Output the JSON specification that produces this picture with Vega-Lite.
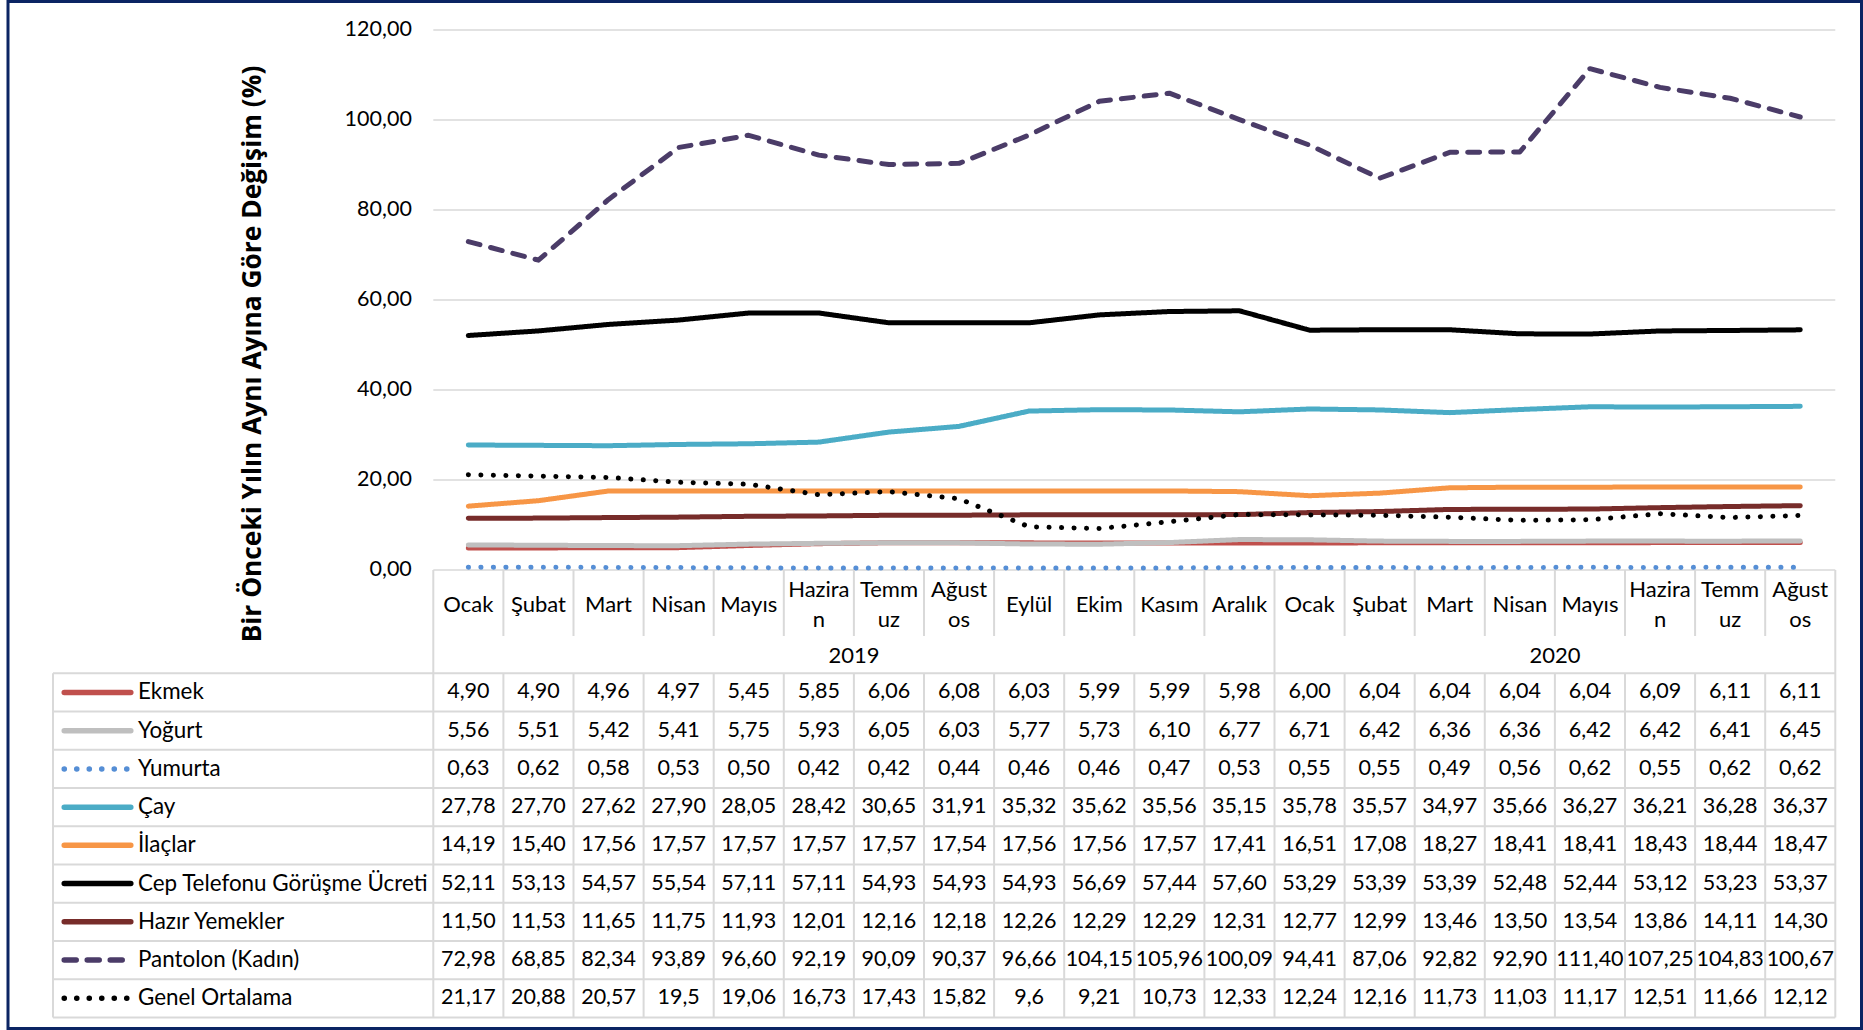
{
  "$schema": "https://vega.github.io/schema/vega-lite/v6.json",
  "usermeta": {"embedOptions": {"actions": false}},
  "width": 1853.5,
  "height": 1027,
  "padding": {"left": 8, "top": 1.5, "right": 1.5, "bottom": 1.5},
  "background": "white",
  "config": {
    "view": {"stroke": "#0b2463", "strokeWidth": 3},
    "font": "Lato",
    "locale": {"number": {"decimal": ",", "thousands": ".", "grouping": [3], "currency": ["", ""]}}
  },
  "datasets": {
    "ser": [
      {"s": "Ekmek", "k": 0}, {"s": "Yoğurt", "k": 1}, {"s": "Yumurta", "k": 2}, {"s": "Çay", "k": 3}, {"s": "İlaçlar", "k": 4},
      {"s": "Cep Telefonu Görüşme Ücreti", "k": 5}, {"s": "Hazır Yemekler", "k": 6}, {"s": "Pantolon (Kadın)", "k": 7}, {"s": "Genel Ortalama", "k": 8}
    ],
    "months": [
      {"m": 0, "ay": "Ocak", "yil": "2019"}, {"m": 1, "ay": "Şubat", "yil": "2019"}, {"m": 2, "ay": "Mart", "yil": "2019"}, {"m": 3, "ay": "Nisan", "yil": "2019"},
      {"m": 4, "ay": "Mayıs", "yil": "2019"}, {"m": 5, "ay": "Hazira\nn", "yil": "2019"}, {"m": 6, "ay": "Temm\nuz", "yil": "2019"}, {"m": 7, "ay": "Ağust\nos", "yil": "2019"},
      {"m": 8, "ay": "Eylül", "yil": "2019"}, {"m": 9, "ay": "Ekim", "yil": "2019"}, {"m": 10, "ay": "Kasım", "yil": "2019"}, {"m": 11, "ay": "Aralık", "yil": "2019"},
      {"m": 12, "ay": "Ocak", "yil": "2020"}, {"m": 13, "ay": "Şubat", "yil": "2020"}, {"m": 14, "ay": "Mart", "yil": "2020"}, {"m": 15, "ay": "Nisan", "yil": "2020"},
      {"m": 16, "ay": "Mayıs", "yil": "2020"}, {"m": 17, "ay": "Hazira\nn", "yil": "2020"}, {"m": 18, "ay": "Temm\nuz", "yil": "2020"}, {"m": 19, "ay": "Ağust\nos", "yil": "2020"}
    ],
    "grid": [{"v": 0}, {"v": 20}, {"v": 40}, {"v": 60}, {"v": 80}, {"v": 100}, {"v": 120}],
    "pts": [
      {"s": "Ekmek", "m": 0, "v": 4.90}, {"s": "Ekmek", "m": 1, "v": 4.90}, {"s": "Ekmek", "m": 2, "v": 4.96}, {"s": "Ekmek", "m": 3, "v": 4.97}, {"s": "Ekmek", "m": 4, "v": 5.45},
      {"s": "Ekmek", "m": 5, "v": 5.85}, {"s": "Ekmek", "m": 6, "v": 6.06}, {"s": "Ekmek", "m": 7, "v": 6.08}, {"s": "Ekmek", "m": 8, "v": 6.03}, {"s": "Ekmek", "m": 9, "v": 5.99},
      {"s": "Ekmek", "m": 10, "v": 5.99}, {"s": "Ekmek", "m": 11, "v": 5.98}, {"s": "Ekmek", "m": 12, "v": 6.00}, {"s": "Ekmek", "m": 13, "v": 6.04}, {"s": "Ekmek", "m": 14, "v": 6.04},
      {"s": "Ekmek", "m": 15, "v": 6.04}, {"s": "Ekmek", "m": 16, "v": 6.04}, {"s": "Ekmek", "m": 17, "v": 6.09}, {"s": "Ekmek", "m": 18, "v": 6.11}, {"s": "Ekmek", "m": 19, "v": 6.11},

      {"s": "Yoğurt", "m": 0, "v": 5.56}, {"s": "Yoğurt", "m": 1, "v": 5.51}, {"s": "Yoğurt", "m": 2, "v": 5.42}, {"s": "Yoğurt", "m": 3, "v": 5.41}, {"s": "Yoğurt", "m": 4, "v": 5.75},
      {"s": "Yoğurt", "m": 5, "v": 5.93}, {"s": "Yoğurt", "m": 6, "v": 6.05}, {"s": "Yoğurt", "m": 7, "v": 6.03}, {"s": "Yoğurt", "m": 8, "v": 5.77}, {"s": "Yoğurt", "m": 9, "v": 5.73},
      {"s": "Yoğurt", "m": 10, "v": 6.10}, {"s": "Yoğurt", "m": 11, "v": 6.77}, {"s": "Yoğurt", "m": 12, "v": 6.71}, {"s": "Yoğurt", "m": 13, "v": 6.42}, {"s": "Yoğurt", "m": 14, "v": 6.36},
      {"s": "Yoğurt", "m": 15, "v": 6.36}, {"s": "Yoğurt", "m": 16, "v": 6.42}, {"s": "Yoğurt", "m": 17, "v": 6.42}, {"s": "Yoğurt", "m": 18, "v": 6.41}, {"s": "Yoğurt", "m": 19, "v": 6.45},

      {"s": "Yumurta", "m": 0, "v": 0.63}, {"s": "Yumurta", "m": 1, "v": 0.62}, {"s": "Yumurta", "m": 2, "v": 0.58}, {"s": "Yumurta", "m": 3, "v": 0.53}, {"s": "Yumurta", "m": 4, "v": 0.50},
      {"s": "Yumurta", "m": 5, "v": 0.42}, {"s": "Yumurta", "m": 6, "v": 0.42}, {"s": "Yumurta", "m": 7, "v": 0.44}, {"s": "Yumurta", "m": 8, "v": 0.46}, {"s": "Yumurta", "m": 9, "v": 0.46},
      {"s": "Yumurta", "m": 10, "v": 0.47}, {"s": "Yumurta", "m": 11, "v": 0.53}, {"s": "Yumurta", "m": 12, "v": 0.55}, {"s": "Yumurta", "m": 13, "v": 0.55}, {"s": "Yumurta", "m": 14, "v": 0.49},
      {"s": "Yumurta", "m": 15, "v": 0.56}, {"s": "Yumurta", "m": 16, "v": 0.62}, {"s": "Yumurta", "m": 17, "v": 0.55}, {"s": "Yumurta", "m": 18, "v": 0.62}, {"s": "Yumurta", "m": 19, "v": 0.62},

      {"s": "Çay", "m": 0, "v": 27.78}, {"s": "Çay", "m": 1, "v": 27.70}, {"s": "Çay", "m": 2, "v": 27.62}, {"s": "Çay", "m": 3, "v": 27.90}, {"s": "Çay", "m": 4, "v": 28.05},
      {"s": "Çay", "m": 5, "v": 28.42}, {"s": "Çay", "m": 6, "v": 30.65}, {"s": "Çay", "m": 7, "v": 31.91}, {"s": "Çay", "m": 8, "v": 35.32}, {"s": "Çay", "m": 9, "v": 35.62},
      {"s": "Çay", "m": 10, "v": 35.56}, {"s": "Çay", "m": 11, "v": 35.15}, {"s": "Çay", "m": 12, "v": 35.78}, {"s": "Çay", "m": 13, "v": 35.57}, {"s": "Çay", "m": 14, "v": 34.97},
      {"s": "Çay", "m": 15, "v": 35.66}, {"s": "Çay", "m": 16, "v": 36.27}, {"s": "Çay", "m": 17, "v": 36.21}, {"s": "Çay", "m": 18, "v": 36.28}, {"s": "Çay", "m": 19, "v": 36.37},

      {"s": "İlaçlar", "m": 0, "v": 14.19}, {"s": "İlaçlar", "m": 1, "v": 15.40}, {"s": "İlaçlar", "m": 2, "v": 17.56}, {"s": "İlaçlar", "m": 3, "v": 17.57}, {"s": "İlaçlar", "m": 4, "v": 17.57},
      {"s": "İlaçlar", "m": 5, "v": 17.57}, {"s": "İlaçlar", "m": 6, "v": 17.57}, {"s": "İlaçlar", "m": 7, "v": 17.54}, {"s": "İlaçlar", "m": 8, "v": 17.56}, {"s": "İlaçlar", "m": 9, "v": 17.56},
      {"s": "İlaçlar", "m": 10, "v": 17.57}, {"s": "İlaçlar", "m": 11, "v": 17.41}, {"s": "İlaçlar", "m": 12, "v": 16.51}, {"s": "İlaçlar", "m": 13, "v": 17.08}, {"s": "İlaçlar", "m": 14, "v": 18.27},
      {"s": "İlaçlar", "m": 15, "v": 18.41}, {"s": "İlaçlar", "m": 16, "v": 18.41}, {"s": "İlaçlar", "m": 17, "v": 18.43}, {"s": "İlaçlar", "m": 18, "v": 18.44}, {"s": "İlaçlar", "m": 19, "v": 18.47},

      {"s": "Cep Telefonu Görüşme Ücreti", "m": 0, "v": 52.11}, {"s": "Cep Telefonu Görüşme Ücreti", "m": 1, "v": 53.13}, {"s": "Cep Telefonu Görüşme Ücreti", "m": 2, "v": 54.57},
      {"s": "Cep Telefonu Görüşme Ücreti", "m": 3, "v": 55.54}, {"s": "Cep Telefonu Görüşme Ücreti", "m": 4, "v": 57.11}, {"s": "Cep Telefonu Görüşme Ücreti", "m": 5, "v": 57.11},
      {"s": "Cep Telefonu Görüşme Ücreti", "m": 6, "v": 54.93}, {"s": "Cep Telefonu Görüşme Ücreti", "m": 7, "v": 54.93}, {"s": "Cep Telefonu Görüşme Ücreti", "m": 8, "v": 54.93},
      {"s": "Cep Telefonu Görüşme Ücreti", "m": 9, "v": 56.69}, {"s": "Cep Telefonu Görüşme Ücreti", "m": 10, "v": 57.44}, {"s": "Cep Telefonu Görüşme Ücreti", "m": 11, "v": 57.60},
      {"s": "Cep Telefonu Görüşme Ücreti", "m": 12, "v": 53.29}, {"s": "Cep Telefonu Görüşme Ücreti", "m": 13, "v": 53.39}, {"s": "Cep Telefonu Görüşme Ücreti", "m": 14, "v": 53.39},
      {"s": "Cep Telefonu Görüşme Ücreti", "m": 15, "v": 52.48}, {"s": "Cep Telefonu Görüşme Ücreti", "m": 16, "v": 52.44}, {"s": "Cep Telefonu Görüşme Ücreti", "m": 17, "v": 53.12},
      {"s": "Cep Telefonu Görüşme Ücreti", "m": 18, "v": 53.23}, {"s": "Cep Telefonu Görüşme Ücreti", "m": 19, "v": 53.37},

      {"s": "Hazır Yemekler", "m": 0, "v": 11.50}, {"s": "Hazır Yemekler", "m": 1, "v": 11.53}, {"s": "Hazır Yemekler", "m": 2, "v": 11.65}, {"s": "Hazır Yemekler", "m": 3, "v": 11.75},
      {"s": "Hazır Yemekler", "m": 4, "v": 11.93}, {"s": "Hazır Yemekler", "m": 5, "v": 12.01}, {"s": "Hazır Yemekler", "m": 6, "v": 12.16}, {"s": "Hazır Yemekler", "m": 7, "v": 12.18},
      {"s": "Hazır Yemekler", "m": 8, "v": 12.26}, {"s": "Hazır Yemekler", "m": 9, "v": 12.29}, {"s": "Hazır Yemekler", "m": 10, "v": 12.29}, {"s": "Hazır Yemekler", "m": 11, "v": 12.31},
      {"s": "Hazır Yemekler", "m": 12, "v": 12.77}, {"s": "Hazır Yemekler", "m": 13, "v": 12.99}, {"s": "Hazır Yemekler", "m": 14, "v": 13.46}, {"s": "Hazır Yemekler", "m": 15, "v": 13.50},
      {"s": "Hazır Yemekler", "m": 16, "v": 13.54}, {"s": "Hazır Yemekler", "m": 17, "v": 13.86}, {"s": "Hazır Yemekler", "m": 18, "v": 14.11}, {"s": "Hazır Yemekler", "m": 19, "v": 14.30},

      {"s": "Pantolon (Kadın)", "m": 0, "v": 72.98}, {"s": "Pantolon (Kadın)", "m": 1, "v": 68.85}, {"s": "Pantolon (Kadın)", "m": 2, "v": 82.34}, {"s": "Pantolon (Kadın)", "m": 3, "v": 93.89},
      {"s": "Pantolon (Kadın)", "m": 4, "v": 96.60}, {"s": "Pantolon (Kadın)", "m": 5, "v": 92.19}, {"s": "Pantolon (Kadın)", "m": 6, "v": 90.09}, {"s": "Pantolon (Kadın)", "m": 7, "v": 90.37},
      {"s": "Pantolon (Kadın)", "m": 8, "v": 96.66}, {"s": "Pantolon (Kadın)", "m": 9, "v": 104.15}, {"s": "Pantolon (Kadın)", "m": 10, "v": 105.96}, {"s": "Pantolon (Kadın)", "m": 11, "v": 100.09},
      {"s": "Pantolon (Kadın)", "m": 12, "v": 94.41}, {"s": "Pantolon (Kadın)", "m": 13, "v": 87.06}, {"s": "Pantolon (Kadın)", "m": 14, "v": 92.82}, {"s": "Pantolon (Kadın)", "m": 15, "v": 92.90},
      {"s": "Pantolon (Kadın)", "m": 16, "v": 111.40}, {"s": "Pantolon (Kadın)", "m": 17, "v": 107.25}, {"s": "Pantolon (Kadın)", "m": 18, "v": 104.83}, {"s": "Pantolon (Kadın)", "m": 19, "v": 100.67},

      {"s": "Genel Ortalama", "m": 0, "v": 21.17}, {"s": "Genel Ortalama", "m": 1, "v": 20.88}, {"s": "Genel Ortalama", "m": 2, "v": 20.57}, {"s": "Genel Ortalama", "m": 3, "v": 19.5},
      {"s": "Genel Ortalama", "m": 4, "v": 19.06}, {"s": "Genel Ortalama", "m": 5, "v": 16.73}, {"s": "Genel Ortalama", "m": 6, "v": 17.43}, {"s": "Genel Ortalama", "m": 7, "v": 15.82},
      {"s": "Genel Ortalama", "m": 8, "v": 9.6}, {"s": "Genel Ortalama", "m": 9, "v": 9.21}, {"s": "Genel Ortalama", "m": 10, "v": 10.73}, {"s": "Genel Ortalama", "m": 11, "v": 12.33},
      {"s": "Genel Ortalama", "m": 12, "v": 12.24}, {"s": "Genel Ortalama", "m": 13, "v": 12.16}, {"s": "Genel Ortalama", "m": 14, "v": 11.73}, {"s": "Genel Ortalama", "m": 15, "v": 11.03},
      {"s": "Genel Ortalama", "m": 16, "v": 11.17}, {"s": "Genel Ortalama", "m": 17, "v": 12.51}, {"s": "Genel Ortalama", "m": 18, "v": 11.66}, {"s": "Genel Ortalama", "m": 19, "v": 12.12}
    ]
  },
  "layer": [
    {
      "encoding": {
        "y": {
          "field": "v", "type": "quantitative",
          "scale": {"domain": [-101.889, 126.333], "nice": false, "zero": false},
          "axis": {
            "offset": -425.35, "domain": false, "ticks": false, "grid": false,
            "values": [0, 20, 40, 60, 80, 100, 120], "format": ".2f",
            "labelFont": "Lato", "labelFontSize": 21.5, "labelColor": "#000000", "labelPadding": 22,
            "title": "Bir Önceki Yılın Aynı Ayına Göre Değişim (%)",
            "titleFont": "Open Sans", "titleFontWeight": "bold", "titleFontSize": 26.3, "titleColor": "#000000",
            "titleAngle": 270, "titleBaseline": "middle", "titleAlign": "center",
            "titleX": -181.35, "titleY": 352
          }
        }
      },
      "layer": [
        {
          "data": {"name": "grid"},
          "mark": {"type": "rule", "stroke": "#d9d9d9", "strokeWidth": 1.5},
          "encoding": {
            "x": {"datum": -0.5, "type": "quantitative", "scale": {"domain": [-6.567, 19.8738], "nice": false, "zero": false}, "axis": null},
            "x2": {"datum": 19.5}
          }
        },
        {
          "data": {"name": "pts"},
          "mark": {"type": "line", "strokeWidth": 5, "strokeCap": "round", "strokeJoin": "round"},
          "encoding": {
            "x": {"field": "m", "type": "quantitative", "scale": {"domain": [-6.567, 19.8738], "nice": false, "zero": false}, "axis": null},
            "order": {"field": "m"},
            "color": {
              "field": "s", "type": "nominal", "legend": null,
              "scale": {
                "domain": ["Ekmek", "Yoğurt", "Yumurta", "Çay", "İlaçlar", "Cep Telefonu Görüşme Ücreti", "Hazır Yemekler", "Pantolon (Kadın)", "Genel Ortalama"],
                "range": ["#c0504d", "#bfbfbf", "#558ed5", "#4bacc6", "#f79646", "#000000", "#772c2a", "#4b3c68", "#000000"]
              }
            },
            "strokeDash": {
              "field": "s", "type": "nominal", "legend": null,
              "scale": {
                "domain": ["Ekmek", "Yoğurt", "Yumurta", "Çay", "İlaçlar", "Cep Telefonu Görüşme Ücreti", "Hazır Yemekler", "Pantolon (Kadın)", "Genel Ortalama"],
                "range": [[1, 0], [1, 0], [0.1, 12.4], [1, 0], [1, 0], [1, 0], [1, 0], [12, 11], [0.1, 12.4]]
              }
            }
          }
        }
      ]
    },
    {
      "layer": [
        {
          "data": {"name": "ser"},
          "mark": {"type": "rule", "stroke": "#d9d9d9", "strokeWidth": 2, "yOffset": -19.12},
          "encoding": {
            "x": {"datum": -5.925, "type": "quantitative", "scale": {"domain": [-6.567, 19.8738], "nice": false, "zero": false}, "axis": null},
            "x2": {"datum": 19.5},
            "y": {"field": "k", "type": "quantitative", "scale": {"domain": [-18.068, 8.789], "nice": false, "zero": false, "reverse": true}, "axis": null}
          }
        },
        {
          "data": {"values": [{}]},
          "mark": {"type": "rule", "stroke": "#d9d9d9", "strokeWidth": 2},
          "encoding": {
            "x": {"datum": -5.925, "type": "quantitative", "scale": {"domain": [-6.567, 19.8738], "nice": false, "zero": false}, "axis": null},
            "x2": {"datum": 19.5},
            "y": {"datum": 8.5, "type": "quantitative", "scale": {"domain": [-18.068, 8.789], "nice": false, "zero": false, "reverse": true}, "axis": null}
          }
        },
        {
          "data": {"name": "months"},
          "mark": {"type": "rule", "stroke": "#d9d9d9", "strokeWidth": 2, "xOffset": -35.05},
          "encoding": {
            "x": {"field": "m", "type": "quantitative", "scale": {"domain": [-6.567, 19.8738], "nice": false, "zero": false}, "axis": null},
            "y": {"datum": -3.201, "type": "quantitative", "scale": {"domain": [-18.068, 8.789], "nice": false, "zero": false, "reverse": true}, "axis": null},
            "y2": {"datum": -1.475}
          }
        },
        {
          "data": {"name": "months"},
          "mark": {"type": "rule", "stroke": "#d9d9d9", "strokeWidth": 2, "xOffset": -35.05},
          "encoding": {
            "x": {"field": "m", "type": "quantitative", "scale": {"domain": [-6.567, 19.8738], "nice": false, "zero": false}, "axis": null},
            "y": {"datum": -0.5, "type": "quantitative", "scale": {"domain": [-18.068, 8.789], "nice": false, "zero": false, "reverse": true}, "axis": null},
            "y2": {"datum": 8.5}
          }
        },
        {
          "data": {"name": "months"},
          "mark": {"type": "rule", "stroke": "#d9d9d9", "strokeWidth": 2, "xOffset": -35.05},
          "encoding": {
            "x": {"aggregate": "min", "field": "m", "type": "quantitative", "scale": {"domain": [-6.567, 19.8738], "nice": false, "zero": false}, "axis": null},
            "detail": {"field": "yil"},
            "y": {"datum": -1.475, "type": "quantitative", "scale": {"domain": [-18.068, 8.789], "nice": false, "zero": false, "reverse": true}, "axis": null},
            "y2": {"datum": -0.5}
          }
        },
        {
          "data": {"values": [{}]},
          "mark": {"type": "rule", "stroke": "#d9d9d9", "strokeWidth": 2},
          "encoding": {
            "x": {"datum": 19.5, "type": "quantitative", "scale": {"domain": [-6.567, 19.8738], "nice": false, "zero": false}, "axis": null},
            "y": {"datum": -3.201, "type": "quantitative", "scale": {"domain": [-18.068, 8.789], "nice": false, "zero": false, "reverse": true}, "axis": null},
            "y2": {"datum": 8.5}
          }
        },
        {
          "data": {"values": [{}]},
          "mark": {"type": "rule", "stroke": "#d9d9d9", "strokeWidth": 2},
          "encoding": {
            "x": {"datum": -5.925, "type": "quantitative", "scale": {"domain": [-6.567, 19.8738], "nice": false, "zero": false}, "axis": null},
            "y": {"datum": -0.5, "type": "quantitative", "scale": {"domain": [-18.068, 8.789], "nice": false, "zero": false, "reverse": true}, "axis": null},
            "y2": {"datum": 8.5}
          }
        },
        {
          "data": {"name": "months"},
          "transform": [{"filter": "indexof(datum.ay, '\\n') < 0"}],
          "mark": {"type": "text", "font": "Lato", "fontSize": 22, "color": "#000000", "align": "center", "baseline": "middle"},
          "encoding": {
            "x": {"field": "m", "type": "quantitative", "scale": {"domain": [-6.567, 19.8738], "nice": false, "zero": false}, "axis": null},
            "y": {"datum": -2.291, "type": "quantitative", "scale": {"domain": [-18.068, 8.789], "nice": false, "zero": false, "reverse": true}, "axis": null},
            "text": {"field": "ay"}
          }
        },
        {
          "data": {"name": "months"},
          "transform": [{"filter": "indexof(datum.ay, '\\n') >= 0"}],
          "mark": {"type": "text", "font": "Lato", "fontSize": 22, "color": "#000000", "align": "center", "baseline": "middle", "lineBreak": "\n", "lineHeight": 30},
          "encoding": {
            "x": {"field": "m", "type": "quantitative", "scale": {"domain": [-6.567, 19.8738], "nice": false, "zero": false}, "axis": null},
            "y": {"datum": -2.683, "type": "quantitative", "scale": {"domain": [-18.068, 8.789], "nice": false, "zero": false, "reverse": true}, "axis": null},
            "text": {"field": "ay"}
          }
        },
        {
          "data": {"name": "months"},
          "mark": {"type": "text", "font": "Lato", "fontSize": 22, "color": "#000000", "align": "center", "baseline": "middle"},
          "encoding": {
            "x": {"aggregate": "mean", "field": "m", "type": "quantitative", "scale": {"domain": [-6.567, 19.8738], "nice": false, "zero": false}, "axis": null},
            "y": {"datum": -0.958, "type": "quantitative", "scale": {"domain": [-18.068, 8.789], "nice": false, "zero": false, "reverse": true}, "axis": null},
            "text": {"field": "yil"}
          }
        },
        {
          "data": {"name": "ser"},
          "mark": {"type": "rule", "strokeWidth": 5.5, "strokeCap": "round"},
          "encoding": {
            "x": {"datum": -5.765, "type": "quantitative", "scale": {"domain": [-6.567, 19.8738], "nice": false, "zero": false}, "axis": null},
            "x2": {"datum": -4.815},
            "y": {"field": "k", "type": "quantitative", "scale": {"domain": [-18.068, 8.789], "nice": false, "zero": false, "reverse": true}, "axis": null},
            "color": {
              "field": "s", "type": "nominal", "legend": null,
              "scale": {
                "domain": ["Ekmek", "Yoğurt", "Yumurta", "Çay", "İlaçlar", "Cep Telefonu Görüşme Ücreti", "Hazır Yemekler", "Pantolon (Kadın)", "Genel Ortalama"],
                "range": ["#c0504d", "#bfbfbf", "#558ed5", "#4bacc6", "#f79646", "#000000", "#772c2a", "#4b3c68", "#000000"]
              }
            },
            "strokeDash": {
              "field": "s", "type": "nominal", "legend": null,
              "scale": {
                "domain": ["Ekmek", "Yoğurt", "Yumurta", "Çay", "İlaçlar", "Cep Telefonu Görüşme Ücreti", "Hazır Yemekler", "Pantolon (Kadın)", "Genel Ortalama"],
                "range": [[1, 0], [1, 0], [0.1, 12.4], [1, 0], [1, 0], [1, 0], [1, 0], [12, 11], [0.1, 12.4]]
              }
            }
          }
        },
        {
          "data": {"name": "ser"},
          "mark": {"type": "text", "font": "Lato", "fontSize": 22.4, "color": "#000000", "align": "left", "baseline": "middle"},
          "encoding": {
            "x": {"datum": -4.713, "type": "quantitative", "scale": {"domain": [-6.567, 19.8738], "nice": false, "zero": false}, "axis": null},
            "y": {"field": "k", "type": "quantitative", "scale": {"domain": [-18.068, 8.789], "nice": false, "zero": false, "reverse": true}, "axis": null},
            "text": {"field": "s"}
          }
        },
        {
          "data": {"name": "pts"},
          "transform": [
            {"filter": "datum.s !== 'Genel Ortalama'"},
            {"lookup": "s", "from": {"data": {"name": "ser"}, "key": "s", "fields": ["k"]}}
          ],
          "mark": {"type": "text", "font": "Lato", "fontSize": 21.5, "color": "#000000", "align": "center", "baseline": "middle"},
          "encoding": {
            "x": {"field": "m", "type": "quantitative", "scale": {"domain": [-6.567, 19.8738], "nice": false, "zero": false}, "axis": null},
            "y": {"field": "k", "type": "quantitative", "scale": {"domain": [-18.068, 8.789], "nice": false, "zero": false, "reverse": true}, "axis": null},
            "text": {"field": "v", "type": "quantitative", "format": ".2f"}
          }
        },
        {
          "data": {"name": "pts"},
          "transform": [
            {"filter": "datum.s === 'Genel Ortalama'"},
            {"lookup": "s", "from": {"data": {"name": "ser"}, "key": "s", "fields": ["k"]}}
          ],
          "mark": {"type": "text", "font": "Lato", "fontSize": 21.5, "color": "#000000", "align": "center", "baseline": "middle"},
          "encoding": {
            "x": {"field": "m", "type": "quantitative", "scale": {"domain": [-6.567, 19.8738], "nice": false, "zero": false}, "axis": null},
            "y": {"field": "k", "type": "quantitative", "scale": {"domain": [-18.068, 8.789], "nice": false, "zero": false, "reverse": true}, "axis": null},
            "text": {"field": "v", "type": "quantitative", "format": ".2~f"}
          }
        }
      ]
    }
  ],
  "resolve": {"scale": {"y": "independent"}}
}
